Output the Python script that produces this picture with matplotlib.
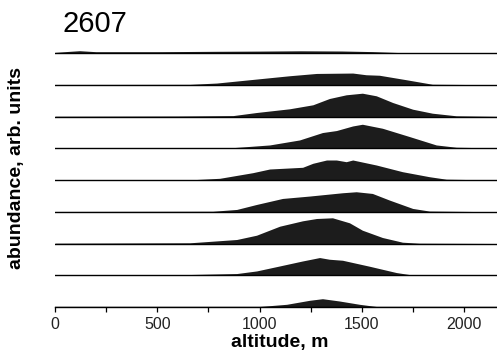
import numpy as np
import matplotlib
matplotlib.use("Agg")
import matplotlib.pyplot as plt
from matplotlib.ticker import MultipleLocator

plt.rcParams['font.family'] = ['Liberation Sans', 'DejaVu Sans']

# altitude profiles, top row first (altitude in m, abundance in arb. units)
row1_alt = [0, 60, 120, 200, 500, 800, 1000, 1200, 1400, 1550, 1700, 2160]
row1_val = [0.6, 1.5, 2.3, 1.3, 1.3, 1.7, 1.9, 2.2, 2.0, 1.4, 0.3, 0]

row2_alt = [0, 659, 790, 985, 1146, 1278, 1455, 1520, 1585, 1717, 1844, 2160]
row2_val = [0.3, 0.4, 1.7, 5.7, 9, 11.3, 11.7, 10, 9.5, 5, 0.5, 0]

row3_alt = [0, 600, 870, 985, 1146, 1260, 1341, 1423, 1502, 1570, 1650, 1748, 1844, 1961, 2160]
row3_val = [0.3, 0.5, 0.9, 4, 7.7, 11.7, 18, 21.7, 23.3, 20.7, 14, 7.3, 3.3, 0.7, 0.2]

row4_alt = [0, 700, 870, 1049, 1195, 1307, 1375, 1455, 1502, 1600, 1732, 1863, 1961, 2160]
row4_val = [0.3, 0.4, 0.6, 3.3, 8.3, 15.7, 17.7, 22.3, 24, 20, 11.7, 3.3, 1, 0.3]

row5_alt = [0, 693, 805, 966, 1049, 1210, 1260, 1327, 1375, 1423, 1455, 1570, 1698, 1829, 1912, 2160]
row5_val = [0.3, 0.5, 1.7, 7.3, 11, 12.7, 16.7, 20, 20, 18.3, 20, 15, 8.3, 3.3, 0.8, 0]

row6_alt = [0, 771, 888, 985, 1112, 1244, 1405, 1472, 1551, 1634, 1748, 1829, 2160]
row6_val = [0.3, 0.5, 2.3, 7.3, 13.3, 15.7, 19, 20, 18.3, 11.7, 3.3, 0.7, 0]

row7_alt = [0, 659, 888, 985, 1098, 1210, 1278, 1356, 1439, 1502, 1600, 1698, 1780, 2160]
row7_val = [0.3, 0.7, 4, 8.3, 17.3, 22.7, 25, 25.7, 20.7, 13.3, 6, 1.3, 0.3, 0]

row8_alt = [0, 561, 888, 985, 1098, 1210, 1293, 1341, 1405, 1537, 1668, 1732, 2160]
row8_val = [0.2, 0.3, 1.7, 4.3, 9.3, 14.3, 17.7, 16, 15, 9, 2.7, 0.7, 0]

row9_alt = [0, 800, 1000, 1132, 1244, 1307, 1390, 1488, 1570, 2160]
row9_val = [0, 0.2, 0.5, 2.7, 6.7, 8.3, 6, 2.7, 0.5, 0]

rows = [(row1_alt, row1_val), (row2_alt, row2_val), (row3_alt, row3_val),
        (row4_alt, row4_val), (row5_alt, row5_val), (row6_alt, row6_val),
        (row7_alt, row7_val), (row8_alt, row8_val), (row9_alt, row9_val)]

fig = plt.figure(figsize=(4.97, 3.55), dpi=100)
ax = fig.add_axes([55/497, 1 - 307/355, 1 - 55/497, 267/355])

spacing = 31.75
n = len(rows)
for i, (alt, val) in enumerate(rows):
    off = (n - 1 - i) * spacing
    alt = np.array(alt, dtype=float)
    val = np.array(val, dtype=float)
    ax.fill_between(alt, off, off + val, color='#1c1c1c', linewidth=0)
    ax.axhline(off, color='black', lw=1.0)

ax.set_xlim(0, 2160)
ax.set_ylim(0, 267)
for s in ['top', 'right', 'left']:
    ax.spines[s].set_visible(False)
ax.spines['bottom'].set_linewidth(1.0)
ax.set_yticks([])
ax.set_xticks([0, 500, 1000, 1500, 2000])
ax.xaxis.set_minor_locator(MultipleLocator(250))
ax.tick_params(axis='x', which='both', direction='out', length=3.5, width=0.9,
               labelsize=11.5, pad=3.5, labelcolor='#222222')

fig.text(62/497, 1 - 32/355, "2607", fontsize=21, va='baseline', ha='left')
fig.text(17/497, 1 - 168/355, "abundance, arb. units", rotation=90,
         fontsize=14, fontweight='bold', ha='center', va='center')
fig.text(280/497, 1 - 343/355, "altitude, m", fontsize=14,
         fontweight='bold', ha='center', va='center')

fig.savefig("out.png", dpi=100)
